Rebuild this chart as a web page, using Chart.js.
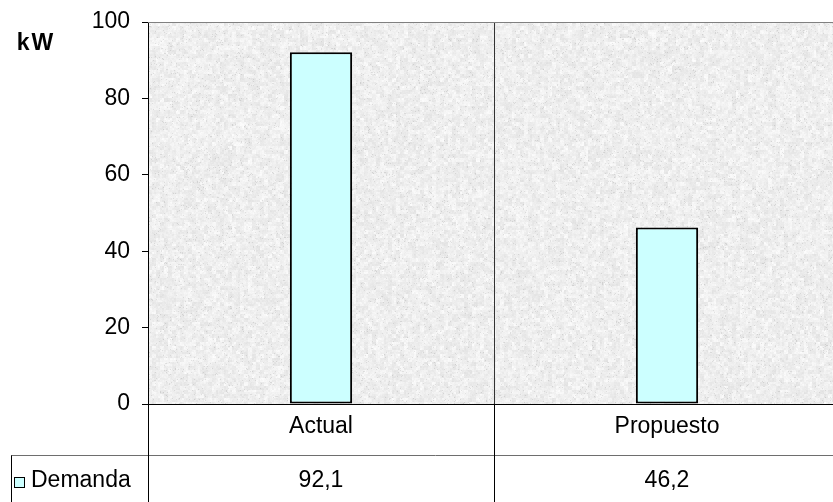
<!DOCTYPE html>
<html>
<head>
<meta charset="utf-8">
<script src="https://cdn.jsdelivr.net/npm/chart.js@4/dist/chart.umd.min.js"></script>
<style>
  html, body { margin: 0; padding: 0; background: #fff; overflow: hidden; }
  #wrap { width: 833px; height: 502px; overflow: hidden; position: relative; }
</style>
</head>
<body>
<div id="wrap"><canvas id="c" width="860" height="502"></canvas></div>
<script>
// Demand comparison, current vs proposed
const categories = ['Actual', 'Propuesto'];
const demanda = [92.1, 46.2];
const seriesName = 'Demanda';
const unitLabel = 'kW';
const yTicks = [0, 20, 40, 60, 80, 100];

const FONT = "'Liberation Sans', Arial, sans-serif";
const BAR_FILL = '#CCFFFF';
Chart.defaults.font.family = FONT;
Chart.defaults.font.size = 23;
Chart.defaults.color = '#000';

// Deterministic grainy fill for the plotting area
function makeTexture(w, h) {
  const cv = document.createElement('canvas');
  cv.width = w; cv.height = h;
  const g = cv.getContext('2d');
  const img = g.createImageData(w, h);
  const hash = (x, y) => {
    let n = (Math.imul(x, 374761393) + Math.imul(y, 668265263)) | 0;
    n = Math.imul(n ^ (n >>> 13), 1274126177);
    n = n ^ (n >>> 16);
    return (n >>> 0) / 4294967295;
  };
  for (let y = 0; y < h; y++) {
    for (let x = 0; x < w; x++) {
      const a = hash(x >> 2, y >> 2);
      const b = hash((x >> 1) + 1000, (y >> 1) + 77);
      const c = hash(x + 3000, y + 5000);
      let v = 254 - a * 15 - b * 10 - c * 6;
      if (c > 0.97) v -= 18;
      const i = (y * w + x) * 4;
      img.data[i] = v; img.data[i + 1] = v; img.data[i + 2] = v; img.data[i + 3] = 255;
    }
  }
  g.putImageData(img, 0, 0);
  return cv;
}

const backdrop = {
  id: 'backdrop',
  beforeDraw(chart) {
    const { ctx, chartArea: a } = chart;
    const tex = makeTexture(Math.ceil(a.right - a.left), Math.ceil(a.bottom - a.top));
    ctx.drawImage(tex, a.left, a.top);
  }
};

const dataTable = {
  id: 'dataTable',
  afterDraw(chart) {
    const { ctx, chartArea: a } = chart;
    const xs = chart.scales.x;
    const H = chart.height, W = chart.width;
    const rowLine = 455.5;
    ctx.save();

    // top border of plotting area
    ctx.strokeStyle = '#808080';
    ctx.lineWidth = 1;
    ctx.beginPath();
    ctx.moveTo(a.left, a.top + 0.5); ctx.lineTo(a.right, a.top + 0.5);
    ctx.stroke();

    // horizontal rule between category row and value row
    ctx.strokeStyle = '#6e6e6e';
    ctx.beginPath();
    ctx.moveTo(11, rowLine); ctx.lineTo(W, rowLine);
    ctx.stroke();

    // vertical rules continuing below the axis
    ctx.strokeStyle = '#000';
    const bounds = [a.left];
    for (let i = 0; i < categories.length; i++) {
      const half = (xs.getPixelForTick(1) - xs.getPixelForTick(0)) / 2;
      bounds.push(xs.getPixelForTick(i) + half);
    }
    bounds.forEach(bx => {
      const px = Math.round(bx) + 0.5;
      ctx.beginPath();
      ctx.moveTo(px, a.bottom); ctx.lineTo(px, H);
      ctx.stroke();
    });
    ctx.beginPath();
    ctx.moveTo(11.5, rowLine); ctx.lineTo(11.5, H);
    ctx.stroke();

    // legend key + series name
    const rowY = 481;
    ctx.fillStyle = BAR_FILL;
    ctx.fillRect(14, 477, 10, 10);
    ctx.strokeStyle = '#000';
    ctx.strokeRect(14.5, 477.5, 10, 10);
    ctx.fillStyle = '#000';
    ctx.font = '23px ' + FONT;
    ctx.textBaseline = 'middle';
    ctx.textAlign = 'left';
    ctx.fillText(seriesName, 31, rowY);

    // values per category
    ctx.textAlign = 'center';
    demanda.forEach((v, i) => {
      ctx.fillText(v.toFixed(1).replace('.', ','), xs.getPixelForTick(i), rowY);
    });

    // unit label
    ctx.font = 'bold 23px ' + FONT;
    ctx.fillText(unitLabel.split('').join(String.fromCharCode(8202)), 35, 44);
    ctx.restore();
  }
};

new Chart(document.getElementById('c'), {
  type: 'bar',
  data: {
    labels: categories,
    datasets: [{
      label: seriesName,
      data: demanda,
      backgroundColor: BAR_FILL,
      borderColor: '#000',
      borderWidth: 2,
      borderSkipped: false,
      categoryPercentage: 1,
      barPercentage: 0.18
    }]
  },
  options: {
    responsive: false,
    animation: false,
    devicePixelRatio: 1,
    layout: { padding: { top: 22, right: 20, left: 0, bottom: 0 } },
    plugins: { legend: { display: false }, tooltip: { enabled: false } },
    scales: {
      x: {
        afterFit(s) { s.height = 98; },
        grid: { offset: true, drawTicks: false, color: '#333', lineWidth: 1 },
        border: { color: '#000', width: 1 },
        ticks: { padding: 9, font: { size: 23 }, color: '#000' }
      },
      y: {
        min: 0, max: 100,
        afterFit(s) { s.width = 148; },
        afterBuildTicks(s) { s.ticks = yTicks.map(v => ({ value: v })); },
        grid: { drawOnChartArea: false, drawTicks: true, tickLength: 6, color: '#000' },
        border: { color: '#000', width: 1 },
        ticks: { padding: 12, font: { size: 23, lineHeight: 0.4 }, color: '#000' }
      }
    }
  },
  plugins: [backdrop, dataTable]
});
</script>
</body>
</html>
